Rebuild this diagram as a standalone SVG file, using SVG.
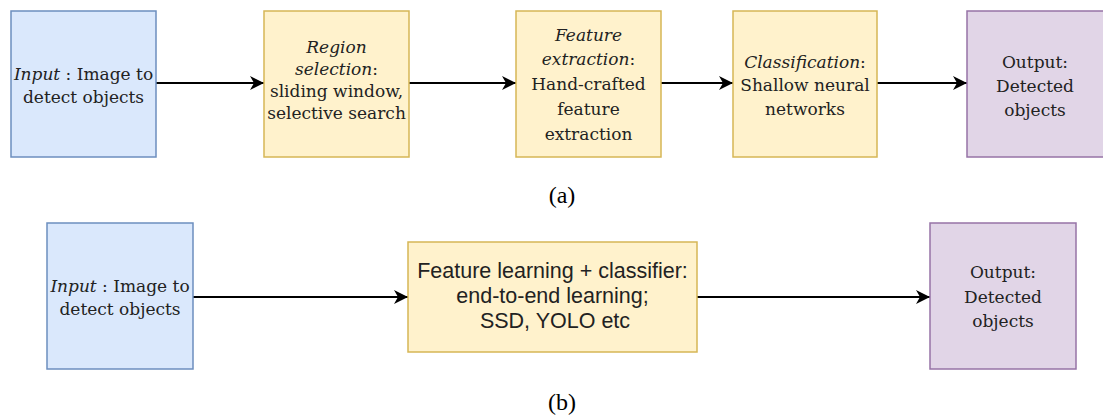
<svg xmlns="http://www.w3.org/2000/svg" width="1103" height="417" viewBox="0 0 1103 417">
<style>
.blue{fill:#dae8fc;stroke:#6c8ebf;stroke-width:1.5}
.yellow{fill:#fff2cc;stroke:#d6b656;stroke-width:1.5}
.purple{fill:#e1d5e7;stroke:#9673a6;stroke-width:1.5}
.t{font-family:"DejaVu Serif","Liberation Serif",serif;font-size:17px;fill:#222;text-anchor:middle}
.s{font-family:"Liberation Sans",Arial,sans-serif;font-size:21.5px;fill:#222;text-anchor:middle}
.cap{font-family:"Liberation Serif","Times New Roman",serif;font-size:24px;fill:#000;text-anchor:middle}
.i{font-style:italic}
.edge{fill:none;stroke:#000;stroke-width:2}
</style>
<defs>
<marker id="arr" markerUnits="userSpaceOnUse" markerWidth="15" markerHeight="14" refX="14" refY="7" orient="auto">
<path d="M0,0 L14,7 L0,14 L4,7 Z" fill="#000"/>
</marker>
</defs>
<g id="connectors">
<path class="edge" d="M156,83 H264" marker-end="url(#arr)"/>
<path class="edge" d="M409,83 H516" marker-end="url(#arr)"/>
<path class="edge" d="M661,83 H733" marker-end="url(#arr)"/>
<path class="edge" d="M877,83 H967" marker-end="url(#arr)"/>
<path class="edge" d="M193,297 H408" marker-end="url(#arr)"/>
<path class="edge" d="M697,297 H930" marker-end="url(#arr)"/>
</g>
<g id="a-input">
<rect class="blue" x="11" y="11" width="145" height="146"/>
<text class="t" x="83.5" y="80"><tspan class="i">Input</tspan> : Image to</text>
<text class="t" x="83.5" y="103">detect objects</text>
</g>
<g id="a-region">
<rect class="yellow" x="264" y="11" width="145" height="146"/>
<text class="t i" x="336.5" y="53">Region</text>
<text class="t" x="336.5" y="75"><tspan class="i">selection</tspan>:</text>
<text class="t" x="336.5" y="97">sliding window,</text>
<text class="t" x="336.5" y="119">selective search</text>
</g>
<g id="a-feature">
<rect class="yellow" x="516" y="11" width="145" height="146"/>
<text class="t i" x="588.5" y="41">Feature</text>
<text class="t" x="588.5" y="65"><tspan class="i">extraction</tspan>:</text>
<text class="t" x="588.5" y="90">Hand-crafted</text>
<text class="t" x="588.5" y="115">feature</text>
<text class="t" x="588.5" y="140">extraction</text>
</g>
<g id="a-class">
<rect class="yellow" x="733" y="11" width="144" height="146"/>
<text class="t" x="805" y="68"><tspan class="i">Classification</tspan>:</text>
<text class="t" x="805" y="91">Shallow neural</text>
<text class="t" x="805" y="115">networks</text>
</g>
<g id="a-output">
<rect class="purple" x="967" y="11" width="137" height="146"/>
<text class="t" x="1035" y="68">Output:</text>
<text class="t" x="1035" y="92">Detected</text>
<text class="t" x="1035" y="116">objects</text>
</g>
<text class="cap" x="562" y="203">(a)</text>
<g id="b-input">
<rect class="blue" x="47" y="223" width="146" height="146"/>
<text class="t" x="120" y="292"><tspan class="i">Input</tspan> : Image to</text>
<text class="t" x="120" y="315">detect objects</text>
</g>
<g id="b-learn">
<rect class="yellow" x="408" y="242" width="289" height="110"/>
<text class="s" x="552.5" y="278">Feature learning + classifier:</text>
<text class="s" x="552.5" y="303">end-to-end learning;</text>
<text class="s" x="555" y="328">SSD, YOLO etc</text>
</g>
<g id="b-output">
<rect class="purple" x="930" y="223" width="146" height="146"/>
<text class="t" x="1003" y="278">Output:</text>
<text class="t" x="1003" y="303">Detected</text>
<text class="t" x="1003" y="327">objects</text>
</g>
<text class="cap" x="562" y="410">(b)</text>
</svg>
